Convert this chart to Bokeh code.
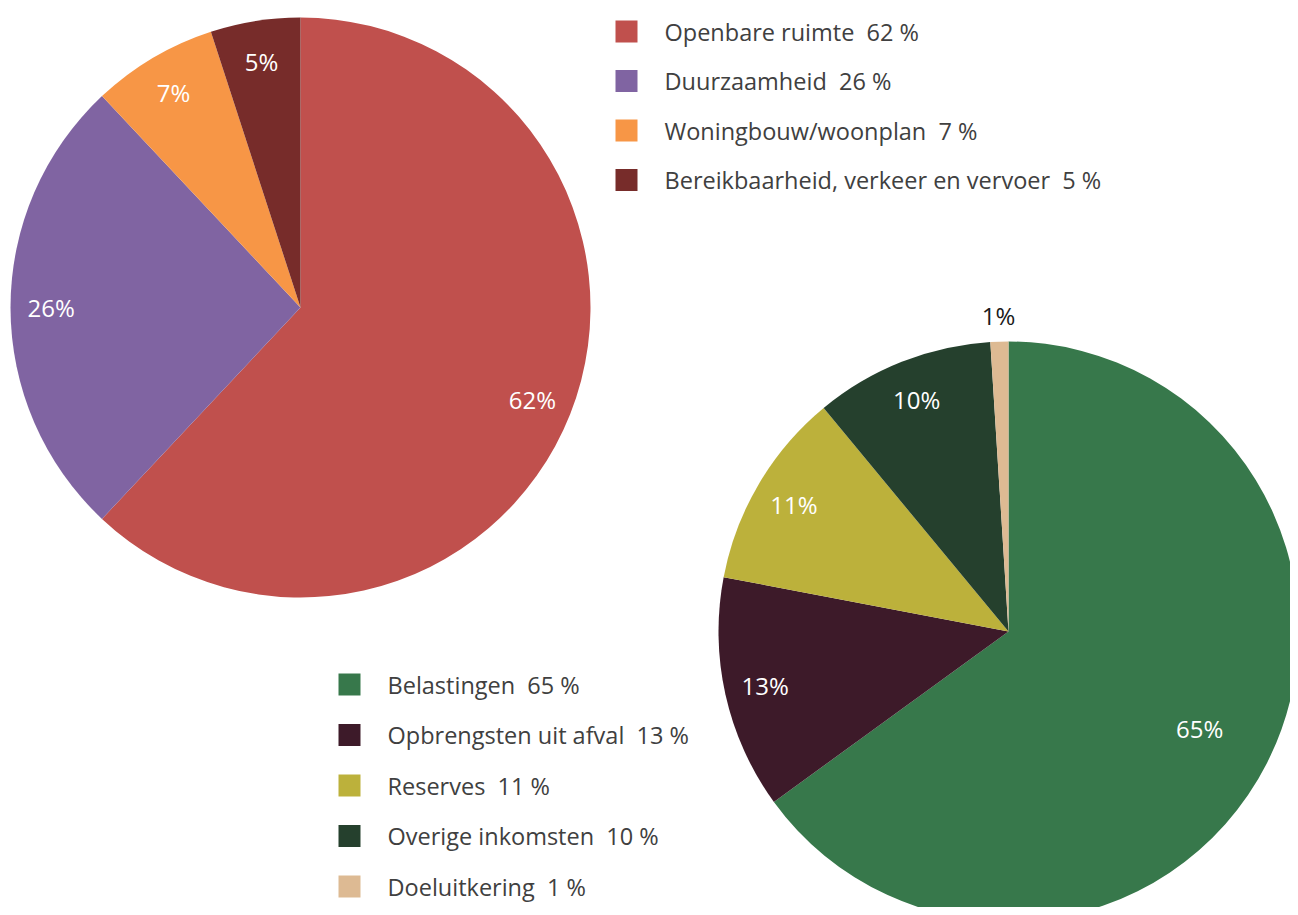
import math
from bokeh.plotting import figure
from bokeh.models import Range1d, ColumnDataSource
from bokeh.core.properties import value
from bokeh.embed import file_html
from bokeh.resources import INLINE

# ---- data ----
cats1 = ["Openbare ruimte", "Duurzaamheid", "Woningbouw/woonplan", "Bereikbaarheid, verkeer en vervoer"]
vals1 = [62, 26, 7, 5]
cols1 = ["#C0504D", "#8064A2", "#F79646", "#772C2A"]

cats2 = ["Belastingen", "Opbrengsten uit afval", "Reserves", "Overige inkomsten", "Doeluitkering"]
vals2 = [65, 13, 11, 10, 1]
cols2 = ["#37784B", "#3D1A29", "#BCB13B", "#25402D", "#DDBA93"]

W, H = 1290, 907
PAGE_H = 915
p = figure(width=W, height=H, output_backend="svg", toolbar_location=None,
           x_range=Range1d(0, W), y_range=Range1d(PAGE_H - H, PAGE_H),
           min_border=0, outline_line_color=None, background_fill_color="white")
p.axis.visible = False
p.grid.visible = False

FONT = value("Open Sans")
NB = "\u00a0"


def pie(cx, cy, r, vals, cols, label_r, label_colors):
    total = float(sum(vals))
    starts, ends, lx, ly = [], [], [], []
    cum = 0.0
    for v, lr in zip(vals, label_r):
        a0 = math.pi / 2 - 2 * math.pi * cum / total
        a1 = math.pi / 2 - 2 * math.pi * (cum + v) / total
        starts.append(a0)
        ends.append(a1)
        mid = (a0 + a1) / 2
        lx.append(cx + lr * r * math.cos(mid))
        ly.append(cy + lr * r * math.sin(mid))
        cum += v
    src = ColumnDataSource(dict(x=[cx] * len(vals), y=[cy] * len(vals), s=starts, e=ends, c=cols))
    p.wedge(x="x", y="y", radius=r, start_angle="s", end_angle="e", direction="clock",
            fill_color="c", line_color=None, source=src)
    lsrc = ColumnDataSource(dict(x=lx, y=ly, t=["%d%%" % v for v in vals], c=label_colors))
    p.text(x="x", y="y", text="t", text_color="c", text_font=FONT, text_font_size="24px",
           text_align="center", text_baseline="middle", source=lsrc)


# positions are screen pixels (y measured from the top)
pie(300, PAGE_H - 307, 290, vals1, cols1, [0.86, 0.86, 0.86, 0.86], ["white"] * 4)
pie(1008, PAGE_H - 631, 290, vals2, cols2, [0.74, 0.86, 0.86, 0.86, 1.09],
    ["white", "white", "white", "white", "#1a1a1a"])


def legend(x0, y0, step, cats, vals, cols):
    ys = [PAGE_H - (y0 + i * step) for i in range(len(cats))]
    src = ColumnDataSource(dict(x=[x0] * len(cats), y=ys, c=cols,
                                tx=[x0 + 38] * len(cats),
                                t=["%s%s%s%d%s%%" % (c, NB, NB, v, NB) for c, v in zip(cats, vals)]))
    p.rect(x="x", y="y", width=22, height=22, fill_color="c", line_color=None, source=src)
    p.text(x="tx", y="y", text="t", text_color="#404040", text_font=FONT, text_font_size="23.5px",
           text_align="left", text_baseline="middle", source=src)


legend(626, 31, 49.5, cats1, vals1, cols1)
legend(349, 684, 50.5, cats2, vals2, cols2)

open("out.html", "w").write(file_html(p, INLINE))
